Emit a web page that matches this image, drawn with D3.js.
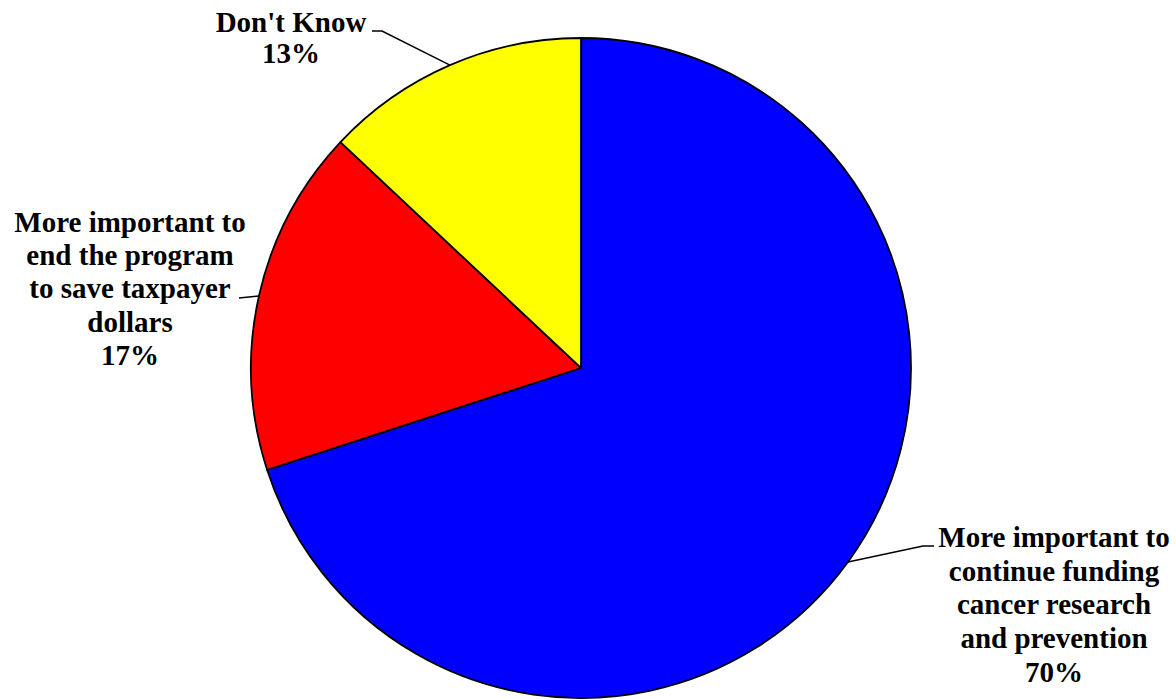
<!DOCTYPE html>
<html>
<head>
<meta charset="utf-8">
<script src="https://cdn.jsdelivr.net/npm/d3@7"></script>
<style>
  body { margin: 0; background: #fff; }
  text { font-family: "Liberation Serif", "Times New Roman", serif; font-weight: bold; fill: #000; }
</style>
</head>
<body>
<script>
var width = 1176, height = 699;

// data
var categories = ["More important to continue funding cancer research and prevention",
                  "More important to end the program to save taxpayer dollars",
                  "Don't Know"];
var values = [70, 17, 13];
var colors = ["#0000ff", "#ff0000", "#ffff00"];
var labelLines = [
  ["More important to", "continue funding", "cancer research", "and prevention", "70%"],
  ["More important to", "end the program", "to save taxpayer", "dollars", "17%"],
  ["Don't Know", "13%"]
];

// layout for labels (centre x, first baseline y, line step, leader elbow, leader end)
var labelPos = [
  {x: 1054, y: 547, step: 33.7, elbow: [923, 546], end: [934, 546]},
  {x: 130, y: 232, step: 33.2, elbow: [249, 297], end: [239, 298]},
  {x: 291, y: 32, step: 31, elbow: [382, 31], end: [372, 31]}
];

var cx = 581, cy = 368, radius = 330;

var svg = d3.select("body").append("svg")
    .attr("width", width)
    .attr("height", height);

var pie = d3.pie().sort(null).value(function(d) { return d; });
var arcs = pie(values);

var arc = d3.arc().innerRadius(0).outerRadius(radius);

var g = svg.append("g").attr("transform", "translate(" + cx + "," + cy + ")");

g.selectAll("path.slice")
  .data(arcs)
  .enter().append("path")
  .attr("class", "slice")
  .attr("d", arc)
  .attr("fill", function(d, i) { return colors[i]; })
  .attr("stroke", "#000")
  .attr("stroke-width", 1.8)
  .attr("stroke-linejoin", "round");

// leader lines from slice mid-angle on the rim
arcs.forEach(function(d, i) {
  var a = (d.startAngle + d.endAngle) / 2;
  var px = cx + radius * Math.sin(a);
  var py = cy - radius * Math.cos(a);
  var p = labelPos[i];
  svg.append("polyline")
    .attr("points", [[px, py], p.elbow, p.end].map(function(q) { return q.join(","); }).join(" "))
    .attr("fill", "none")
    .attr("stroke", "#000")
    .attr("stroke-width", 1.5);
});

// labels
labelLines.forEach(function(lines, i) {
  var p = labelPos[i];
  var t = svg.append("text")
    .attr("text-anchor", "middle")
    .style("font-size", "29px");
  lines.forEach(function(s, j) {
    t.append("tspan")
      .attr("x", p.x)
      .attr("y", p.y + j * p.step)
      .text(s);
  });
});
</script>
</body>
</html>
